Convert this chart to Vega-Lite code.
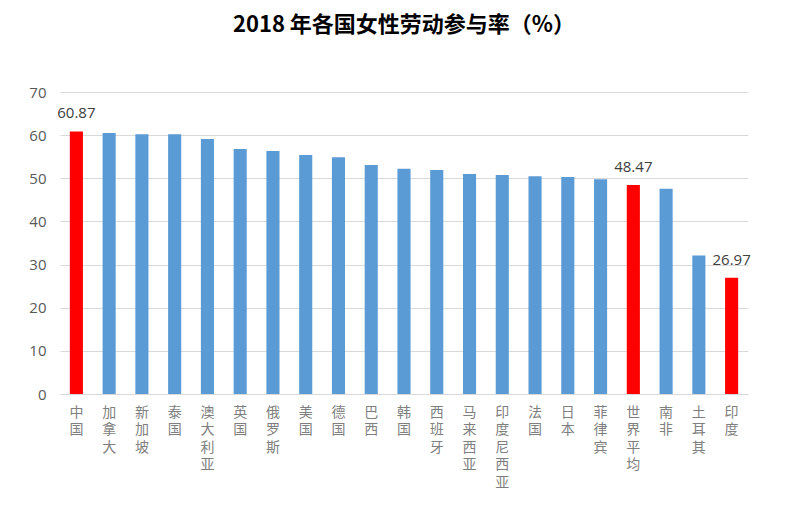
{
  "$schema": "https://vega.github.io/schema/vega-lite/v6.json",
  "autosize": "none",
  "padding": {"left": 60, "top": 92, "right": 46, "bottom": 118},
  "width": 688,
  "height": 302,
  "title": {
    "text": "2018 年各国女性劳动参与率（%）",
    "font": "Noto Sans CJK SC",
    "fontSize": 22,
    "fontWeight": "bold",
    "color": "#000000",
    "anchor": "middle",
    "frame": "group",
    "offset": 48
  },
  "config": {
    "view": {"stroke": null},
    "font": "Noto Sans CJK SC"
  },
  "data": {
    "values": [
      {"country": "中国", "value": 60.87, "type": "h"},
      {"country": "加拿大", "value": 60.5, "type": "n"},
      {"country": "新加坡", "value": 60.23, "type": "n"},
      {"country": "泰国", "value": 60.2, "type": "n"},
      {"country": "澳大利亚", "value": 59.08, "type": "n"},
      {"country": "英国", "value": 56.77, "type": "n"},
      {"country": "俄罗斯", "value": 56.3, "type": "n"},
      {"country": "美国", "value": 55.4, "type": "n"},
      {"country": "德国", "value": 54.9, "type": "n"},
      {"country": "巴西", "value": 53.1, "type": "n"},
      {"country": "韩国", "value": 52.2, "type": "n"},
      {"country": "西班牙", "value": 51.9, "type": "n"},
      {"country": "马来西亚", "value": 51.0, "type": "n"},
      {"country": "印度尼西亚", "value": 50.75, "type": "n"},
      {"country": "法国", "value": 50.5, "type": "n"},
      {"country": "日本", "value": 50.3, "type": "n"},
      {"country": "菲律宾", "value": 49.8, "type": "n"},
      {"country": "世界平均", "value": 48.47, "type": "h"},
      {"country": "南非", "value": 47.6, "type": "n"},
      {"country": "土耳其", "value": 32.1, "type": "n"},
      {"country": "印度", "value": 26.97, "type": "h"}
    ]
  },
  "encoding": {
    "x": {
      "field": "country",
      "type": "nominal",
      "sort": null,
      "scale": {"paddingInner": 0.6, "paddingOuter": 0.3},
      "axis": {
        "title": null,
        "labelAngle": 0,
        "labelExpr": "split(datum.label, '')",
        "labelBaseline": "top",
        "labelAlign": "center",
        "labelFontSize": 14,
        "labelLineHeight": 17.5,
        "labelColor": "#7f7f7f",
        "labelPadding": 11,
        "ticks": false,
        "domainColor": "#d9d9d9",
        "labelOverlap": false
      }
    },
    "y": {
      "field": "value",
      "type": "quantitative",
      "scale": {"domain": [0, 70]},
      "axis": {
        "title": null,
        "values": [0, 10, 20, 30, 40, 50, 60, 70],
        "domain": false,
        "ticks": false,
        "labelFontSize": 15,
        "labelColor": "#595959",
        "labelPadding": 14,
        "gridColor": "#d9d9d9",
        "labelFont": "Open Sans"
      }
    }
  },
  "layer": [
    {
      "mark": {"type": "bar"},
      "encoding": {
        "color": {
          "field": "type",
          "type": "nominal",
          "scale": {"domain": ["h", "n"], "range": ["#ff0000", "#5b9bd5"]},
          "legend": null
        }
      }
    },
    {
      "transform": [{"filter": "datum.type == 'h'"}],
      "mark": {"type": "text", "baseline": "bottom", "dy": -10, "fontSize": 15, "color": "#404040", "font": "Open Sans"},
      "encoding": {
        "text": {"field": "value", "type": "quantitative", "format": ".2f"}
      }
    }
  ]
}
